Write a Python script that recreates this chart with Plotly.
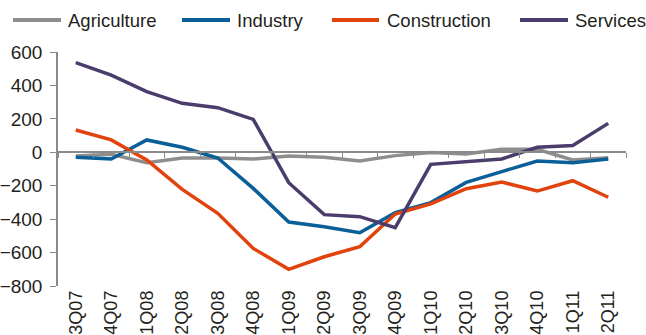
import plotly.graph_objects as go

quarters = ["3Q07", "4Q07", "1Q08", "2Q08", "3Q08", "4Q08", "1Q09", "2Q09",
            "3Q09", "4Q09", "1Q10", "2Q10", "3Q10", "4Q10", "1Q11", "2Q11"]

agriculture = [-22, -12, -62, -34, -34, -40, -22, -30, -52, -20, -2, -10, 18, 18, -46, -32]
industry = [-30, -40, 74, 30, -34, -216, -417, -445, -481, -361, -301, -180, -116, -52, -62, -40]
construction = [133, 74, -46, -222, -365, -575, -700, -625, -565, -369, -309, -218, -178, -232, -170, -269]
services = [536, 462, 363, 293, 267, 197, -182, -373, -385, -451, -72, -56, -40, 30, 40, 173]

series_names = ["Agriculture", "Industry", "Construction", "Services"]
series_values = [agriculture, industry, construction, services]
series_colors = ["#8e8e8e", "#0a5f98", "#e2420c", "#4b3d6b"]

y_ticks = [600, 400, 200, 0, -200, -400, -600, -800]

FONT = "Liberation Sans, Arial, Helvetica, sans-serif"
AXIS_GREY = "#8a8a8a"
TEXT = "#231f20"

W, H = 646, 335
ML, MR, MT, MB = 58, 20, 52, 49
PW, PH = W - ML - MR, H - MT - MB


def px_x(px):
    """Horizontal pixel position -> paper fraction."""
    return (px - ML) / PW


def px_y(py):
    """Vertical pixel position (from top) -> paper fraction."""
    return (H - MB - py) / PH


fig = go.Figure()
for name, vals, col in zip(series_names, series_values, series_colors):
    fig.add_trace(go.Scatter(x=quarters, y=vals, name=name, mode="lines",
                             line=dict(color=col, width=3.5), showlegend=False))

# Helper trace so the zero-line tick axis is rendered
fig.add_trace(go.Scatter(x=[-0.5, 15.5], y=[0, 0], xaxis="x2", mode="lines",
                         line=dict(width=0), showlegend=False, hoverinfo="skip"))

# Legend row: swatch line + label for each series
legend_line_x = [(13, 61), (182, 230), (332, 379), (520, 568)]
legend_text_x = [66, 235, 385, 573]
legend_y = 20
shapes = []
annotations = []
for name, col, (x0, x1), tx in zip(series_names, series_colors, legend_line_x, legend_text_x):
    shapes.append(dict(type="line", xref="paper", yref="paper",
                       x0=px_x(x0), x1=px_x(x1), y0=px_y(legend_y), y1=px_y(legend_y),
                       line=dict(color=col, width=4)))
    annotations.append(dict(text=name, xref="paper", yref="paper",
                            x=px_x(tx), y=px_y(legend_y), xanchor="left", yanchor="middle",
                            showarrow=False, font=dict(size=18.5, color=TEXT, family=FONT)))

y_min, y_max = -800, 600
zero_pos = (0 - y_min) / (y_max - y_min)

fig.update_layout(
    width=W, height=H,
    margin=dict(l=ML, r=MR, t=MT, b=MB),
    paper_bgcolor="white", plot_bgcolor="white",
    font=dict(family=FONT, size=19, color=TEXT),
    showlegend=False,
    shapes=shapes,
    annotations=annotations,
    xaxis=dict(type="category", showline=False, ticks="", showgrid=False,
               zeroline=False, tickangle=-90, tickfont=dict(size=18),
               range=[-0.5, 15.5], automargin=False),
    xaxis2=dict(overlaying="x", anchor="free", position=zero_pos,
                range=[-0.5, 15.5], showline=True, linecolor=AXIS_GREY, linewidth=1.5,
                ticks="outside", ticklen=5, tickcolor=AXIS_GREY, tickwidth=1.2,
                tickvals=[i + 0.5 for i in range(-1, 16)], showticklabels=False,
                showgrid=False, zeroline=False),
    yaxis=dict(range=[y_min, y_max], tickvals=y_ticks, showgrid=False,
               zeroline=False, showline=True, linecolor=AXIS_GREY, linewidth=1.5,
               ticks="outside", ticklen=6, tickcolor=AXIS_GREY, tickwidth=1.2,
               ticklabelstandoff=4, tickfont=dict(size=19), automargin=False),
)

fig.write_html("out.html")
